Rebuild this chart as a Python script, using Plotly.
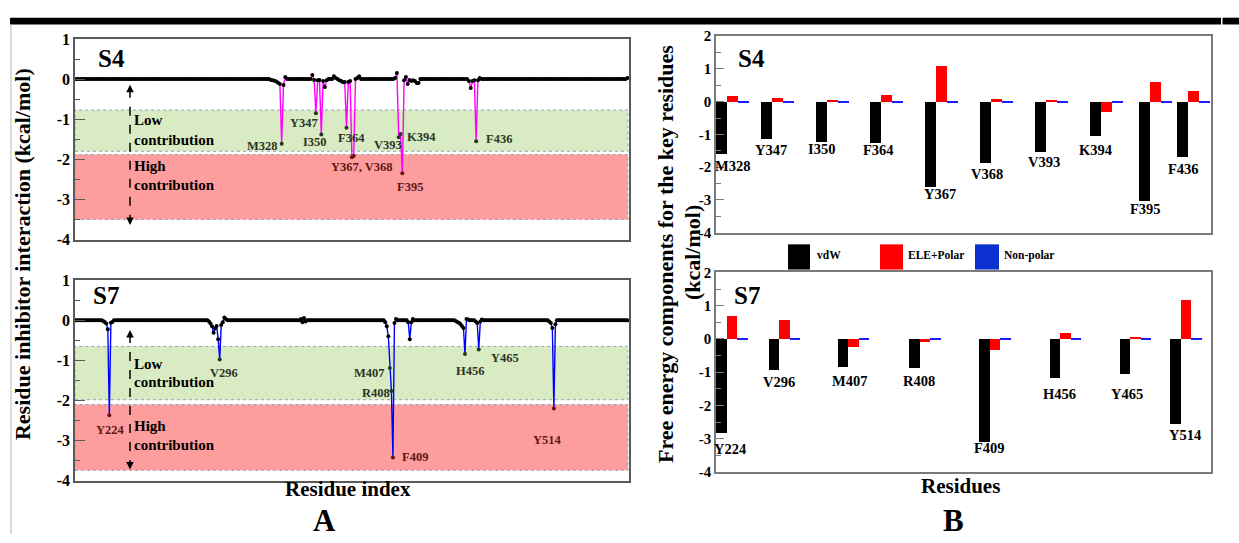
import plotly.graph_objects as go

W, H = 1239, 543

# ---------------- Panel A data: per-residue inhibitor interaction (kcal/mol) ----------------
# residues not listed read as ~0 on the baseline
s4_first_res, s4_last_res = 214, 520
s4_values = {
    322: -0.02, 323: -0.03, 324: -0.04, 325: -0.06, 326: -0.09, 327: -0.12, 328: -1.61, 329: -0.15, 330: 0.05,
    345: 0.10, 346: -0.02, 347: -0.85, 348: -0.03, 349: -0.02, 350: -1.38, 351: -0.05, 352: -0.20, 353: -0.03,
    357: 0.07, 358: 0.03, 360: -0.03, 361: -0.05, 362: -0.08, 363: -0.07, 364: -1.21, 365: -0.07, 366: -0.05,
    367: -1.95, 368: -1.92, 369: 0.00, 370: 0.03, 371: 0.07,
    391: 0.03, 392: 0.15, 393: -1.45, 394: -1.37, 395: -2.35, 396: -0.03, 397: 0.05, 398: -0.12, 399: -0.02,
    400: -0.05, 401: -0.03, 402: -0.05, 403: -0.10, 404: -0.10,
    432: -0.05, 433: -0.22, 434: -0.05, 435: -0.03, 436: -1.55, 437: -0.03, 438: 0.03,
    520: 0.03,
}
s4_key_labels = ["M328", "Y347", "I350", "F364", "Y367, V368", "V393", "K394", "F395", "F436"]
s4_key_res = [328, 347, 350, 364, 367, 393, 394, 395, 436]
s4_low_band = (-0.77, -1.80)
s4_high_band = (-1.88, -3.50)

s7_first_res, s7_last_res = 202, 562
s7_values = {
    220: -0.02, 221: -0.04, 222: -0.08, 223: -0.22, 224: -2.37, 225: -0.06, 226: -0.04,
    289: -0.03, 290: -0.08, 291: -0.15, 292: -0.31, 293: -0.20, 294: -0.14, 295: -0.47, 296: -0.98,
    297: -0.12, 298: -0.05, 299: 0.07, 300: 0.03,
    349: 0.03, 350: -0.05, 351: 0.06, 352: -0.03,
    404: -0.05, 405: -0.15, 406: -0.40, 407: -1.19, 408: -1.76, 409: -3.42, 410: -0.07, 411: 0.03,
    419: -0.05, 420: -0.47, 421: -0.05, 422: 0.03,
    450: -0.02, 451: -0.04, 452: -0.06, 453: -0.09, 454: -0.14, 455: -0.19, 456: -0.84, 457: 0.03, 458: 0.02,
    463: -0.03, 464: -0.07, 465: -0.73, 466: -0.03, 467: 0.02,
    511: -0.03, 512: -0.07, 513: -0.19, 514: -2.20, 515: -0.10, 516: 0.00,
}
s7_key_labels = ["Y224", "V296", "M407", "R408", "F409", "H456", "Y465", "Y514"]
s7_key_res = [224, 296, 407, 408, 409, 456, 465, 514]
s7_low_band = (-0.65, -1.98)
s7_high_band = (-2.10, -3.74)

# ---------------- Panel B data: free energy components (kcal/mol) ----------------
s4_residues = ["M328", "Y347", "I350", "F364", "Y367", "V368", "V393", "K394", "F395", "F436"]
s4_xpos = [1.0, 1.81, 2.81, 3.80, 4.80, 5.80, 6.80, 7.80, 8.69, 9.38]
s4_vdw = [-1.60, -1.13, -1.22, -1.25, -2.60, -1.89, -1.53, -1.05, -3.04, -1.70]
s4_ele = [0.18, 0.10, 0.03, 0.20, 1.08, 0.09, 0.03, -0.32, 0.61, 0.32]
s4_nonpolar = [-0.05, -0.05, -0.05, -0.05, -0.05, -0.05, -0.05, -0.05, -0.05, -0.05]

s7_residues = ["Y224", "V296", "M407", "R408", "F409", "H456", "Y465", "Y514"]
s7_xpos = [1.0, 1.75, 2.74, 3.76, 4.76, 5.76, 6.76, 7.48]
s7_vdw = [-2.83, -0.96, -0.86, -0.89, -3.10, -1.20, -1.07, -2.57]
s7_ele = [0.67, 0.56, -0.26, -0.10, -0.36, 0.18, 0.05, 1.17]
s7_nonpolar = [-0.05, -0.05, -0.05, -0.05, -0.05, -0.05, -0.05, -0.05]

y_ticks = [-4, -3, -2, -1, 0, 1]
y_ticks_b = [-4, -3, -2, -1, 0, 1, 2]

# ---------------- styling / layout constants ----------------
FONT = "Liberation Serif"
GREEN = "#d8ebc3"
RED = "#fd9d9d"
BAND_LINE = "#8ea4c4"
FRAME_A = "#5a5a5a"
FRAME_B = "#7a7a7a"


def px_x(p):
    return p / W


def px_y(p):
    return 1 - p / H


# label offsets (pixels, dx right, dy down) from the dip point
s4_label_off = [(-19, 2), (-12, 10), (-6, 8), (5, 10), (10, 10), (-11, 8), (21, 3), (8, 14), (23, -2)]
s7_label_off = [(1, 15), (4, 13), (-20, 5), (-15, 2), (22, 0), (5, 17), (26, 8), (-6, 31)]
# bar-label offsets in panel B (dx, dy below bar end)
s4_bar_lab = [(11, 12), (5, 11), (0, 7), (3, 7), (9, 7), (1, 10), (3, 10), (0, 14), (1, 8), (1, 12)]
s7_bar_lab = [(9, 16), (5, 11), (6, 13), (4, 12), (5, 6), (5, 15), (2, 19), (10, 11)]

fig = go.Figure()
annotations = []
shapes = []


def add_panel_a(first, last, vals, line_color, xa, ya, low, high, labels, key_res, offs):
    xs = list(range(first, last + 1))
    ys = [vals.get(r, 0.0) for r in xs]
    mcol = []
    for v in ys:
        if v <= high[0]:
            mcol.append("#6b1010")
        elif v <= low[0]:
            mcol.append("#1f3a1f")
        else:
            mcol.append("black")
    fig.add_trace(go.Scatter(x=xs, y=ys, mode="lines+markers",
                             line=dict(color=line_color, width=1.4),
                             marker=dict(size=4, color=mcol),
                             xaxis=xa, yaxis=ya, showlegend=False, hoverinfo="x+y"))
    xd = xa + " domain"
    for (ytop, ybot), col in ((low, GREEN), (high, RED)):
        shapes.append(dict(type="rect", xref=xd, yref=ya, x0=0.0, x1=0.998, y0=ybot, y1=ytop,
                           fillcolor=col, line=dict(color=BAND_LINE, width=1, dash="dot"),
                           layer="below"))
    for lab, r, (dx, dy) in zip(labels, key_res, offs):
        v = vals[r]
        col = "#5e1616" if v <= high[0] else "#2b3524"
        annotations.append(dict(x=r, y=v, xref=xa, yref=ya, text=lab, showarrow=False,
                                xshift=dx, yshift=-dy,
                                font=dict(family=FONT, size=12.5, color=col, weight="bold")))


def add_panel_b(xpos, vdw, ele, nonp, names, w, xa, ya, laboffs):
    for k, (vals, col) in enumerate(((vdw, "black"), (ele, "#ff0000"), (nonp, "#1c1cff"))):
        fig.add_trace(go.Bar(x=[p + k * w for p in xpos], y=vals, width=w,
                             marker=dict(color=col, line=dict(width=0)),
                             xaxis=xa, yaxis=ya, showlegend=False))
    for p, v, n, (dx, dy) in zip(xpos, vdw, names, laboffs):
        annotations.append(dict(x=p, y=v, xref=xa, yref=ya, text=n, showarrow=False,
                                xshift=dx, yshift=-dy, yanchor="middle",
                                font=dict(family=FONT, size=14.5, color="black", weight="bold")))


add_panel_a(s4_first_res, s4_last_res, s4_values, "#ff00ff", "x", "y",
            s4_low_band, s4_high_band, s4_key_labels, s4_key_res, s4_label_off)
add_panel_a(s7_first_res, s7_last_res, s7_values, "#0000ff", "x2", "y2",
            s7_low_band, s7_high_band, s7_key_labels, s7_key_res, s7_label_off)
add_panel_b(s4_xpos, s4_vdw, s4_ele, s4_nonpolar, s4_residues, 0.2, "x3", "y3", s4_bar_lab)
add_panel_b(s7_xpos, s7_vdw, s7_ele, s7_nonpolar, s7_residues, 0.15, "x4", "y4", s7_bar_lab)

# dashed double arrows in panel A
for xd, yr, ytop, ybot in (("x domain", "y", -0.14, -3.64), ("x2 domain", "y2", -0.24, -3.72)):
    shapes.append(dict(type="line", xref=xd, yref=yr, x0=0.0993, x1=0.0993, y0=ytop - 0.1, y1=ybot + 0.1,
                       line=dict(color="black", width=1.5, dash="dash")))
    annotations.append(dict(x=0.0993, y=ytop, xref=xd, yref=yr, ax=0, ay=7, text="", showarrow=True,
                            arrowhead=2, arrowsize=1, arrowwidth=1.5, arrowcolor="black"))
    annotations.append(dict(x=0.0993, y=ybot, xref=xd, yref=yr, ax=0, ay=-7, text="", showarrow=True,
                            arrowhead=2, arrowsize=1, arrowwidth=1.5, arrowcolor="black"))


def ptext(text, x, y, size, xanchor="center", yanchor="middle", angle=0, color="black"):
    annotations.append(dict(x=px_x(x), y=px_y(y), xref="paper", yref="paper", text=text,
                            showarrow=False, xanchor=xanchor, yanchor=yanchor, textangle=angle,
                            font=dict(family=FONT, size=size, color=color, weight="bold")))


# band texts
for (yl, yc1, yh, yc2) in ((116, 136, 163, 183), (367, 386, 432, 451)):
    ptext("Low", 132, yl, 15, xanchor="left")
    ptext("contribution", 132, yc1, 15, xanchor="left")
    ptext("High", 132, yh, 15, xanchor="left")
    ptext("contribution", 132, yc2, 15, xanchor="left")

# panel tags
ptext("S4", 96, 52, 25, xanchor="left")
ptext("S7", 91, 297, 25, xanchor="left")
ptext("S4", 736, 52, 25, xanchor="left")
ptext("S7", 732, 297, 25, xanchor="left")

# titles
ptext("Residue inhibitor interaction (kcal/mol)", 22, 254, 22, angle=-90)
ptext("Free energy components for the key residues", 665, 254, 22, angle=-90)
ptext("(kcal/mol)", 692, 252, 22, angle=-90)
ptext("Residue index", 348, 497, 21)
ptext("Residues", 960, 493, 21)
ptext("A", 324, 529, 31)
ptext("B", 953, 529, 31)

# legend of panel B
for (x0, x1, col, lab, tx) in ((788, 810, "black", "vdW", 815), (880, 903, "#ff0000", "ELE+Polar", 906),
                               (975, 999, "#0a30d0", "Non-polar", 1002)):
    shapes.append(dict(type="rect", xref="paper", yref="paper", x0=px_x(x0), x1=px_x(x1),
                       y0=px_y(270), y1=px_y(244), fillcolor=col, line=dict(width=0)))
    ptext(lab, tx, 255, 11.5, xanchor="left")

# page decorations: top black rule and left thin border
shapes.append(dict(type="rect", xref="paper", yref="paper", x0=px_x(10), x1=px_x(1221),
                   y0=px_y(17), y1=px_y(10), fillcolor="black", line=dict(width=0)))
shapes.append(dict(type="rect", xref="paper", yref="paper", x0=px_x(1222.5), x1=1.0,
                   y0=px_y(17), y1=px_y(10), fillcolor="black", line=dict(width=0)))
shapes.append(dict(type="line", xref="paper", yref="paper", x0=px_x(11), x1=px_x(11),
                   y0=0, y1=px_y(17), line=dict(color="#b8b8b8", width=1)))


def yax(domain, rng, tv, frame, size, ticklen, anchor):
    return dict(domain=domain, range=rng, tickmode="array", tickvals=tv,
                ticktext=[str(t) for t in tv], ticks="inside", ticklen=ticklen, tickwidth=1.2,
                tickcolor=frame, minor=dict(dtick=0.5, ticks="inside", ticklen=5, tickcolor=frame),
                showline=True, mirror=True, linecolor=frame, linewidth=1.5, showgrid=False,
                zeroline=False, anchor=anchor,
                tickfont=dict(family=FONT, size=size, color="black", weight="bold"))


def xax(domain, rng, frame, anchor):
    return dict(domain=domain, range=rng, showline=True, mirror=True, linecolor=frame, linewidth=1.5,
                ticks="", showticklabels=False, showgrid=False, zeroline=False, anchor=anchor)


xa_dom = [px_x(75), px_x(629)]
xb_dom = [px_x(716), px_x(1211)]

fig.update_layout(
    width=W, height=H, autosize=False,
    margin=dict(l=0, r=0, t=0, b=0),
    paper_bgcolor="white", plot_bgcolor="white",
    barmode="overlay", bargap=0,
    showlegend=False,
    xaxis=xax(xa_dom, [213.2, 520.9], FRAME_A, "y"),
    yaxis=yax([px_y(239), px_y(32)], [-4, 1], y_ticks, FRAME_A, 16, 10, "x"),
    xaxis2=xax(xa_dom, [201.6, 563.0], FRAME_A, "y2"),
    yaxis2=yax([px_y(488), px_y(281)], [-4, 1], y_ticks, FRAME_A, 16, 10, "x2"),
    xaxis3=xax(xb_dom, [0.9, 9.89], FRAME_B, "y3"),
    yaxis3=yax([px_y(232), px_y(29)], [-4, 2], y_ticks_b, FRAME_B, 15, 8, "x3"),
    xaxis4=xax(xb_dom, [0.925, 7.99], FRAME_B, "y4"),
    yaxis4=yax([px_y(479), px_y(273)], [-4, 2], y_ticks_b, FRAME_B, 15, 8, "x4"),
    annotations=annotations,
    shapes=shapes,
)

fig.write_html("out.html", config={"displayModeBar": False},
               post_script="document.body.style.margin='0';")
